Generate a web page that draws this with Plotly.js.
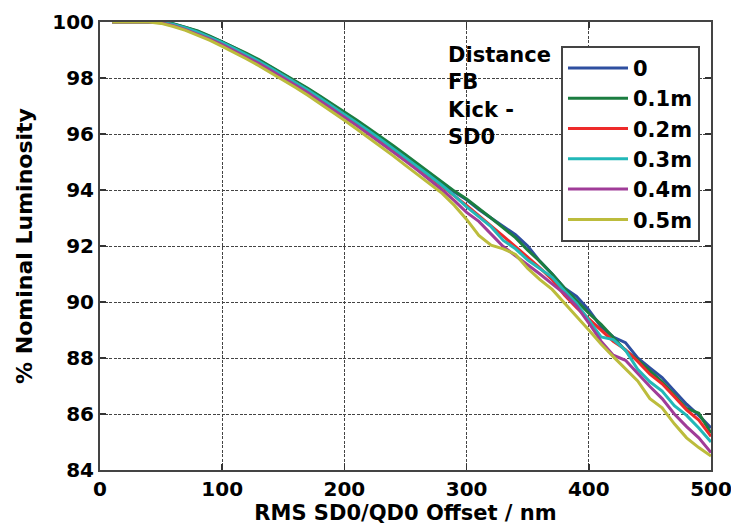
<!DOCTYPE html>
<html>
<head>
<meta charset="utf-8">
<script src="https://cdn.plot.ly/plotly-3.0.1.min.js"></script>
<style>
html,body{margin:0;padding:0;background:#fff;}
#chart{width:731px;height:526px;}
</style>
</head>
<body>
<div id="chart"></div>
<script>
// RMS SD0/QD0 offset (nm)
const offsetNm = [10,20,30,40,50,60,70,80,90,100,110,120,130,140,150,160,170,180,190,200,
  210,220,230,240,250,260,270,280,290,300,310,320,330,340,350,360,370,380,390,400,
  410,420,430,440,450,460,470,480,490,500];

const seriesNames = ['0','0.1m','0.2m','0.3m','0.4m','0.5m'];
const seriesColors = ['#2e4fa0','#1b7d40','#ee2a2a','#22b8b8','#a03c98','#bcbc3c'];

// % nominal luminosity for each feedback kick distance
const lum0 = [100,100,100,100,100,99.93,99.81,99.66,99.48,99.29,99.08,98.86,98.63,98.38,98.13,97.88,97.61,97.33,97.04,96.75,
  96.45,96.15,95.85,95.53,95.21,94.89,94.56,94.23,93.93,93.65,93.3,93.0,92.7,92.4,92.0,91.45,91.0,90.5,90.2,89.72,
  89.12,88.75,88.55,88.0,87.65,87.3,86.82,86.35,85.95,85.5];
const lum01 = [100,100,100,100,100,99.94,99.82,99.68,99.5,99.3,99.1,98.88,98.66,98.41,98.16,97.9,97.63,97.36,97.08,96.8,
  96.5,96.2,95.9,95.58,95.26,94.93,94.6,94.27,93.96,93.68,93.35,93.0,92.65,92.3,91.85,91.45,91.0,90.5,90.05,89.6,
  89.2,88.72,88.27,87.93,87.55,87.15,86.68,86.2,86.03,85.32];
const lum02 = [100,100,100,100,99.98,99.9,99.77,99.62,99.44,99.24,99.03,98.8,98.57,98.33,98.08,97.82,97.55,97.27,96.98,96.69,
  96.38,96.08,95.77,95.45,95.13,94.8,94.47,94.13,93.8,93.45,93.08,92.7,92.35,91.98,91.6,91.22,90.8,90.25,89.8,89.4,
  88.97,88.6,88.3,87.88,87.42,87.08,86.62,86.15,85.78,85.2];
const lum03 = [100,100,100,100,99.99,99.91,99.79,99.64,99.46,99.26,99.05,98.83,98.6,98.35,98.1,97.84,97.57,97.29,97.0,96.71,
  96.41,96.11,95.8,95.48,95.16,94.83,94.5,94.16,93.8,93.4,93.05,92.69,92.2,91.9,91.5,91.2,90.88,90.4,89.95,89.35,
  88.75,88.66,88.28,87.6,87.15,86.82,86.3,85.95,85.5,85.0];
const lum04 = [100,100,100,100,99.97,99.87,99.73,99.57,99.39,99.19,98.97,98.75,98.52,98.27,98.01,97.75,97.48,97.19,96.9,96.6,
  96.3,95.99,95.68,95.36,95.03,94.7,94.36,94.0,93.62,93.2,92.88,92.43,91.98,91.65,91.33,91.0,90.65,90.3,89.85,89.25,
  88.6,88.1,87.92,87.45,86.98,86.55,86.0,85.55,85.15,84.62];
const lum05 = [100,100,100,100,99.95,99.84,99.7,99.53,99.34,99.13,98.91,98.68,98.44,98.19,97.93,97.66,97.38,97.09,96.79,96.49,
  96.18,95.87,95.55,95.22,94.88,94.54,94.2,93.88,93.45,92.95,92.38,92.03,91.9,91.7,91.2,90.8,90.45,89.95,89.48,89.0,
  88.5,88.05,87.62,87.18,86.55,86.22,85.65,85.15,84.8,84.5];

const seriesValues = [lum0, lum01, lum02, lum03, lum04, lum05];

const FONT = 'DejaVu Sans, Verdana, sans-serif';

const traces = seriesValues.map((vals, i) => ({
  type: 'scatter',
  mode: 'lines',
  x: offsetNm,
  y: vals,
  name: seriesNames[i],
  line: {color: seriesColors[i], width: 3}
}));

const axisCommon = {
  showline: true,
  linecolor: '#444',
  linewidth: 2,
  mirror: 'ticks',
  ticks: 'inside',
  ticklen: 6,
  tickwidth: 1.5,
  tickcolor: '#333',
  showgrid: true,
  gridcolor: '#444',
  gridwidth: 1,
  griddash: '3px,1.5px',
  zeroline: false,
  ticklabeloverflow: 'allow',
  tickfont: {family: FONT, size: 20, color: '#000', weight: 'bold'}
};

const layout = {
  width: 731,
  height: 526,
  margin: {l: 100, r: 20, t: 22, b: 56},
  paper_bgcolor: '#fff',
  plot_bgcolor: '#fff',
  showlegend: true,
  xaxis: Object.assign({}, axisCommon, {
    range: [0, 500],
    dtick: 100,
    tick0: 0,
    title: {text: 'RMS SD0/QD0 Offset / nm', font: {family: FONT, size: 21, color: '#000', weight: 'bold'}, standoff: 4}
  }),
  yaxis: Object.assign({}, axisCommon, {
    range: [84, 100],
    dtick: 2,
    tick0: 84,
    title: {text: '% Nominal Luminosity', font: {family: FONT, size: 22, color: '#000', weight: 'bold'}, standoff: 14}
  }),
  legend: {
    x: 0.7545, y: 0.947, xanchor: 'left', yanchor: 'top',
    bgcolor: '#fff',
    bordercolor: '#444',
    borderwidth: 2,
    itemwidth: 60,
    font: {family: FONT, size: 21, color: '#000', weight: 'bold'}
  },
  annotations: [{
    xref: 'paper', yref: 'paper',
    x: 0.566, y: 0.958, xanchor: 'left', yanchor: 'top',
    align: 'left',
    showarrow: false,
    text: 'Distance<br>FB<br>Kick -<br>SD0',
    font: {family: FONT, size: 21, color: '#000', weight: 'bold'}
  }]
};

Plotly.newPlot('chart', traces, layout, {staticPlot: true, displayModeBar: false});
</script>
</body>
</html>
